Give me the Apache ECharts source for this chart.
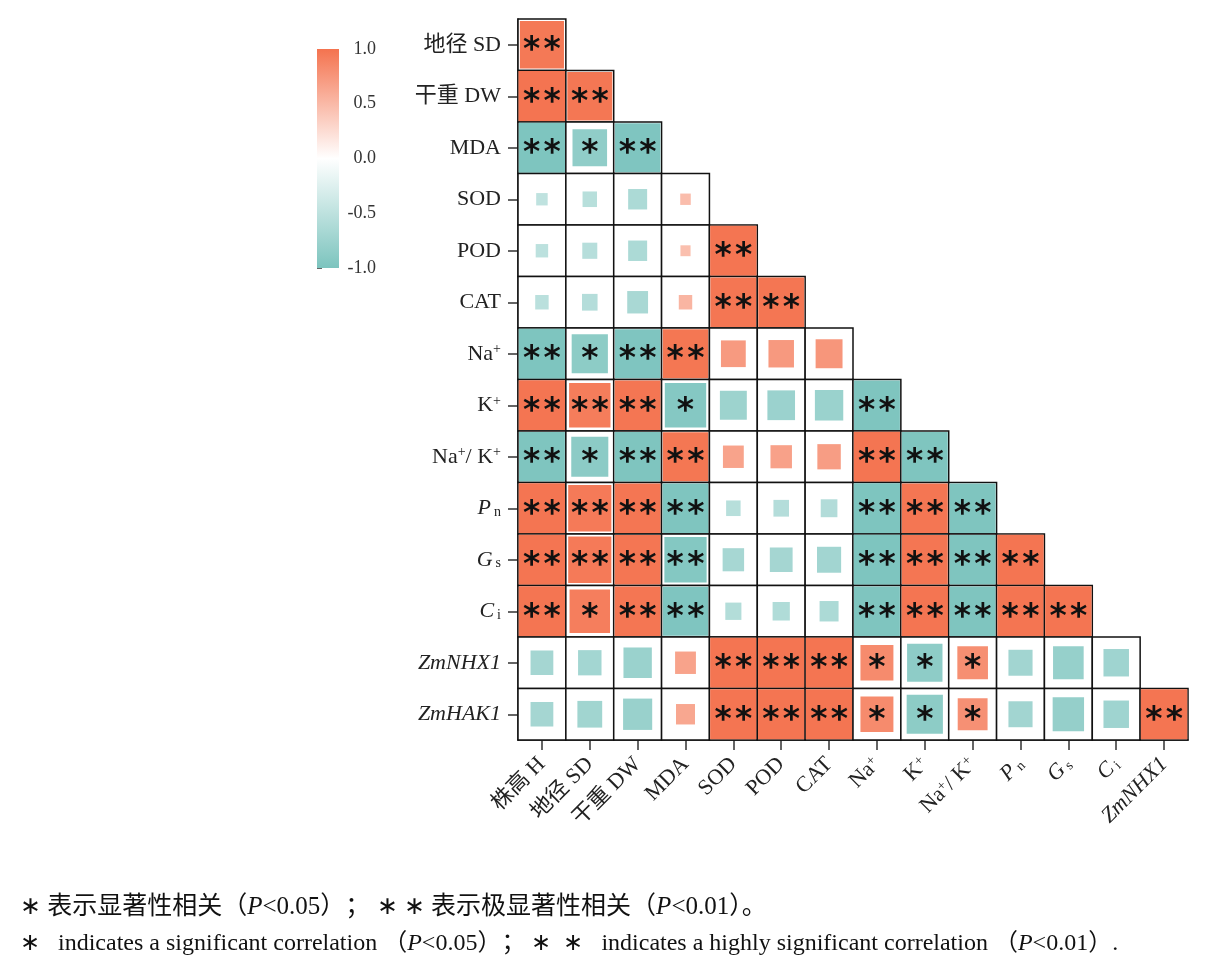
<!DOCTYPE html>
<html lang="zh">
<head>
  <meta charset="UTF-8">
  <title>相关性热图</title>
  <script src="https://cdn.jsdelivr.net/npm/echarts@6/dist/echarts.min.js"></script>
  <style>
    html, body { margin: 0; padding: 0; background: #fff; }
    #main { width: 1209px; height: 972px; }
  </style>
</head>
<body>
<div id="main"></div>
<script>
  // 列（x 轴）与行（y 轴）名称
  var colNames = ['株高 H', '地径 SD', '干重 DW', 'MDA', 'SOD', 'POD', 'CAT', 'Na+', 'K+', 'Na+/K+', 'Pn', 'Gs', 'Ci', 'ZmNHX1'];
  var rowNames = ['地径 SD', '干重 DW', 'MDA', 'SOD', 'POD', 'CAT', 'Na+', 'K+', 'Na+/K+', 'Pn', 'Gs', 'Ci', 'ZmNHX1', 'ZmHAK1'];

  // 相关系数 r（下三角，每行对应 rowNames），方块边长按 r^2 缩放
  var corrRows = [
    [0.96],
    [0.99, 0.97],
    [-0.985, -0.85, -0.975],
    [-0.49, -0.55, -0.63, 0.47],
    [-0.51, -0.56, -0.63, 0.46, 0.985],
    [-0.53, -0.57, -0.66, 0.53, 0.98, 0.98],
    [-0.985, -0.87, -0.975, 0.975, 0.72, 0.73, 0.75],
    [0.985, 0.93, 0.98, -0.93, -0.75, -0.76, -0.77, -0.98],
    [-0.98, -0.88, -0.98, 0.975, 0.66, 0.67, 0.70, 0.985, -0.98],
    [0.985, 0.95, 0.98, -0.98, -0.55, -0.57, -0.59, -0.985, 0.98, -0.98],
    [0.985, 0.95, 0.98, -0.94, -0.67, -0.69, -0.71, -0.985, 0.98, -0.98, 0.985],
    [0.985, 0.92, 0.98, -0.975, -0.58, -0.60, -0.63, -0.98, 0.985, -0.98, 0.985, 0.985],
    [-0.69, -0.70, -0.77, 0.66, 0.985, 0.985, 0.985, 0.83, -0.86, 0.80, -0.71, -0.80, -0.73],
    [-0.69, -0.72, -0.78, 0.63, 0.985, 0.985, 0.985, 0.83, -0.87, 0.79, -0.71, -0.81, -0.73, 0.985]
  ];

  // 显著性标记
  var sigRows = [
    ['**'],
    ['**', '**'],
    ['**', '*', '**'],
    ['', '', '', ''],
    ['', '', '', '', '**'],
    ['', '', '', '', '**', '**'],
    ['**', '*', '**', '**', '', '', ''],
    ['**', '**', '**', '*', '', '', '', '**'],
    ['**', '*', '**', '**', '', '', '', '**', '**'],
    ['**', '**', '**', '**', '', '', '', '**', '**', '**'],
    ['**', '**', '**', '**', '', '', '', '**', '**', '**', '**'],
    ['**', '*', '**', '**', '', '', '', '**', '**', '**', '**', '**'],
    ['', '', '', '', '**', '**', '**', '*', '*', '*', '', '', ''],
    ['', '', '', '', '**', '**', '**', '*', '*', '*', '', '', '', '**']
  ];

  var teal = '#7cc4be', coral = '#f4734f';
  var serif = '"Liberation Serif", "Noto Sans CJK SC", serif';

  var cells = [];
  corrRows.forEach(function (row, i) {
    row.forEach(function (r, j) {
      cells.push([j, i, r, sigRows[i][j]]);
    });
  });

  function fmtLabel(name) {
    switch (name) {
      case 'Na+': return 'Na{sup|+}';
      case 'K+': return 'K{sup|+}';
      case 'Na+/K+': return 'Na{sup|+}/ K{sup|+}';
      case 'Pn': return '{it|P}{sub|n}';
      case 'Gs': return '{it|G}{sub|s}';
      case 'Ci': return '{it|C}{sub|i}';
      case 'ZmNHX1':
      case 'ZmHAK1': return '{it|' + name + '}';
      default: return name;
    }
  }

  var labelRich = {
    sup: { fontSize: 14, fontFamily: serif, color: '#222', verticalAlign: 'top', lineHeight: 22 },
    sub: { fontSize: 14, fontFamily: serif, color: '#222', verticalAlign: 'bottom', lineHeight: 16, padding: [9, 0, 0, 3] },
    it: { fontSize: 22, fontFamily: serif, fontStyle: 'italic', color: '#222' }
  };

  var myChart = echarts.init(document.getElementById('main'));

  var option = {
    backgroundColor: '#fff',
    animation: false,
    title: [{
      left: 20, top: 895, padding: 0,
      text: '∗ 表示显著性相关（{it|P}<0.05）； ∗ ∗ 表示极显著性相关（{it|P}<0.01）。',
      textStyle: {
        fontSize: 25, fontWeight: 'normal', color: '#111', fontFamily: serif,
        rich: { it: { fontSize: 25, fontStyle: 'italic', fontFamily: serif, color: '#111' } }
      }
    }, {
      left: 20, top: 932, padding: 0,
      text: '∗   indicates a significant correlation （{it|P}<0.05）； ∗  ∗   indicates a highly significant correlation （{it|P}<0.01）.',
      textStyle: {
        fontSize: 24, fontWeight: 'normal', color: '#111', fontFamily: serif,
        rich: { it: { fontSize: 24, fontStyle: 'italic', fontFamily: serif, color: '#111' } }
      }
    }],
    visualMap: {
      show: false,
      type: 'continuous',
      seriesIndex: 0,
      dimension: 2,
      min: -1,
      max: 1,
      inRange: { color: [teal, '#ffffff', coral] }
    },
    grid: [
      { left: 518, top: 19, width: 670, height: 721 },
      { left: 317, top: 49, width: 22, height: 219 }
    ],
    xAxis: [{
      type: 'category',
      gridIndex: 0,
      data: colNames,
      position: 'bottom',
      axisLine: { show: true, lineStyle: { color: '#111', width: 1.5 } },
      axisTick: { show: true, alignWithLabel: true, length: 10, lineStyle: { color: '#333', width: 1.5 } },
      axisLabel: {
        interval: 0, rotate: 45, margin: 21, fontSize: 22, fontFamily: serif, color: '#222',
        formatter: fmtLabel, rich: labelRich
      },
      splitLine: { show: false }
    }, {
      type: 'value', gridIndex: 1, min: 0, max: 1, show: false
    }],
    yAxis: [{
      type: 'category',
      gridIndex: 0,
      data: rowNames,
      inverse: true,
      axisLine: { show: true, lineStyle: { color: '#111', width: 1.5 } },
      axisTick: { show: true, alignWithLabel: true, length: 10, lineStyle: { color: '#333', width: 1.5 } },
      axisLabel: {
        interval: 0, margin: 17, fontSize: 22, fontFamily: serif, color: '#222',
        formatter: fmtLabel, rich: labelRich
      },
      splitLine: { show: false }
    }, {
      type: 'value',
      gridIndex: 1,
      min: -1, max: 1, interval: 0.5,
      position: 'right',
      axisLine: { show: false },
      axisTick: { show: true, length: 5, lineStyle: { color: '#666' } },
      axisLabel: {
        margin: 37, align: 'right', fontSize: 18, fontFamily: serif, color: '#333',
        formatter: function (v) { return v.toFixed(1); }
      },
      splitLine: { show: false }
    }],
    series: [{
      type: 'custom',
      xAxisIndex: 0,
      yAxisIndex: 0,
      data: cells,
      renderItem: function (params, api) {
        var c = api.coord([api.value(0), api.value(1)]);
        var sz = api.size([1, 1]);
        var r = api.value(2);
        var f = r * r;
        var sig = cells[params.dataIndex][3];
        var children = [{
          type: 'rect',
          shape: { x: c[0] - sz[0] / 2, y: c[1] - sz[1] / 2, width: sz[0], height: sz[1] },
          style: { fill: '#fff', stroke: '#111', lineWidth: 1.5 }
        }, {
          type: 'rect',
          shape: { x: c[0] - sz[0] * f / 2, y: c[1] - sz[1] * f / 2, width: sz[0] * f, height: sz[1] * f },
          style: { fill: api.visual('color') }
        }];
        if (sig) {
          children.push({
            type: 'text',
            x: c[0], y: c[1] + 7,
            style: {
              text: sig.split('').join('\u200a'),
              fontSize: 33, fontWeight: 'bold', fontFamily: '"DejaVu Sans"',
              fill: '#111', align: 'center', verticalAlign: 'middle'
            }
          });
        }
        return { type: 'group', children: children };
      }
    }, {
      // 色标
      type: 'custom',
      xAxisIndex: 1,
      yAxisIndex: 1,
      data: [[0, 1, 1, -1]],
      silent: true,
      renderItem: function (params, api) {
        var p0 = api.coord([api.value(0), api.value(1)]);
        var p1 = api.coord([api.value(2), api.value(3)]);
        return {
          type: 'rect',
          shape: { x: p0[0], y: p0[1], width: p1[0] - p0[0], height: p1[1] - p0[1] },
          style: {
            fill: new echarts.graphic.LinearGradient(0, 0, 0, 1, [
              { offset: 0, color: coral },
              { offset: 0.5, color: '#ffffff' },
              { offset: 1, color: teal }
            ])
          }
        };
      }
    }]
  };

  myChart.setOption(option);
</script>
</body>
</html>
